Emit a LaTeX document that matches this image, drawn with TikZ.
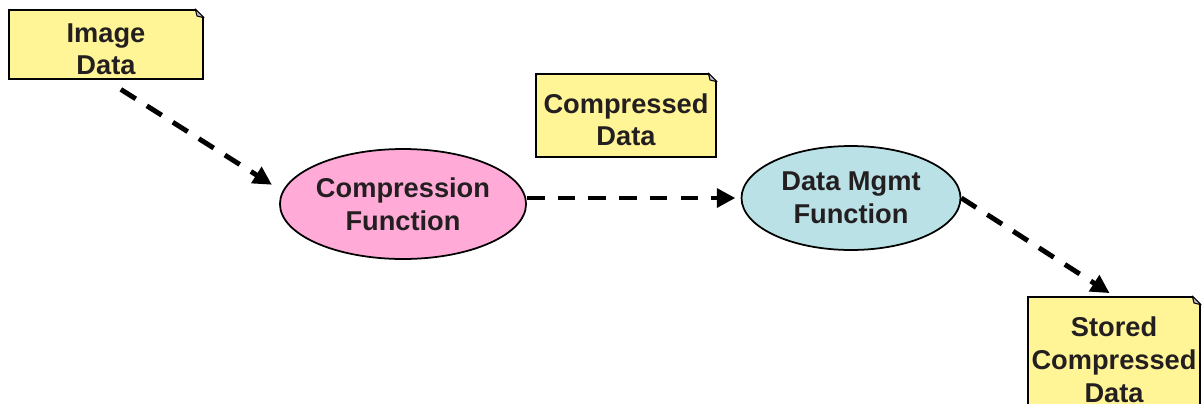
\documentclass[tikz,border=0pt]{standalone}
\usepackage{fontspec}
\setmainfont{Liberation Sans}
\usetikzlibrary{arrows.meta,shapes.geometric}

\definecolor{note yellow}{RGB}{255,245,150}
\definecolor{comp pink}{RGB}{255,170,215}
\definecolor{mgmt blue}{RGB}{185,225,230}
\definecolor{label dark}{RGB}{35,31,32}
\colorlet{fold area}{blue!20!gray!45}
\tikzset{
  note/.style={rectangle, fill=note yellow, draw=black, line width=1.2pt,
  align=center, inner sep=0pt, text=label dark,
  font=\fontsize{15.5}{18.7}\selectfont\bfseries},
  func/.style={ellipse, draw=black, line width=1pt, align=center,
  inner sep=0pt, text=label dark,
  font=\fontsize{15.5}{18.7}\selectfont\bfseries}
  }
\tikzstyle{flow} = [draw, line width=2.8pt, dash pattern=on 10pt off 7.5pt,
  -{Triangle[length=10.5pt,width=10.5pt]}]
\tikzstyle{fold} = [fill=fold area, draw=black, line width=0.6pt, line join=round]
% pushes the first line of a note a little down
\def\notestrut{\rule{0pt}{16pt}}

\begin{document}
\begin{tikzpicture}[x=0.02cm, y=-0.02cm]

    % Frame of the picture
    \useasboundingbox (0,0) rectangle (1202,403);
    \clip (0,0) rectangle (1202,403);

    % The data notes
    \node[note, minimum width=3.88cm, minimum height=1.38cm] (img) at (106,44.5) {\notestrut Image\\Data};
    \node[note, minimum width=3.6cm, minimum height=1.66cm] (cdata) at (626,115.5) {\notestrut Compressed\\Data};
    \node[note, minimum width=3.44cm, minimum height=2.52cm] (stored) at (1114,360) {Stored\\Compressed\\Data};

    % Folded corners
    \foreach \name in {img, cdata, stored} {
      \fill[white] ([xshift=-5pt,yshift=1pt]\name.north east) -- ([xshift=1pt,yshift=1pt]\name.north east)
        -- ([xshift=1pt,yshift=-5pt]\name.north east) -- ([yshift=-5pt]\name.north east)
        -- ([xshift=-5pt]\name.north east) -- cycle;
      \path[fold] ([xshift=-5pt]\name.north east) -- ([yshift=-5pt]\name.north east)
        -- ([xshift=-4pt,yshift=-4pt]\name.north east) -- cycle;
    }

    % The functions
    \node[func, fill=comp pink, minimum width=4.92cm, minimum height=2.2cm] (comp) at (403,204) {Compression\\Function};
    \node[func, fill=mgmt blue, minimum width=4.38cm, minimum height=2.08cm] (mgmt) at (851,198) {Data Mgmt\\Function};

    \path[flow, shorten <=10pt, shorten >=7pt] (img.south) -- (comp.174);
    \path[flow, shorten >=3pt] (comp.east |- mgmt.west) -- (mgmt.west);
    \path[flow, shorten >=3pt] (mgmt.east) -- (stored.north);
\end{tikzpicture}
\end{document}
